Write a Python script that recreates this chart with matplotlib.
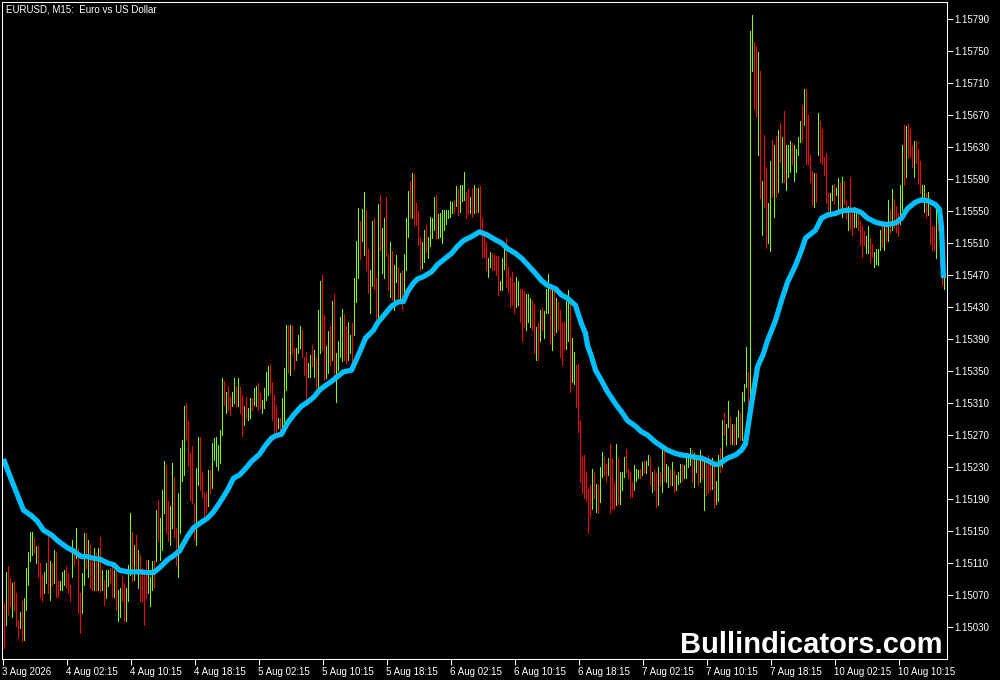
import matplotlib
matplotlib.use("Agg")
import matplotlib.pyplot as plt

plt.rcParams['font.family'] = ['Liberation Sans', 'DejaVu Sans']

# prices are stored in points above BASE (1 point = 0.00001)
BASE = 1.15000
POINT = 0.00001

HIGH = [
    60, 99, 106, 91, 85, 87, 72, 39, 49, 62,
    66, 104, 124, 149, 149, 141, 131, 131, 110, 95,
    99, 110, 145, 112, 110, 126, 124, 87, 87, 99,
    101, 106, 97, 83, 139, 129, 154, 129, 72, 97,
    147, 147, 139, 133, 118, 129, 122, 129, 143, 101,
    89, 101, 101, 104, 106, 101, 104, 76, 79, 95,
    85, 79, 108, 172, 149, 133, 145, 126, 120, 104,
    97, 114, 114, 93, 112, 112, 176, 189, 166, 201,
    237, 233, 187, 181, 235, 218, 154, 197, 254, 264,
    306, 310, 287, 247, 256, 185, 229, 268, 268, 224,
    199, 197, 226, 226, 260, 266, 268, 258, 276, 341,
    337, 324, 331, 318, 324, 341, 331, 341, 330,
    320,
    306, 318, 304, 316, 316, 329, 331, 335, 322, 314,
    329, 349, 356, 358, 336, 320, 306, 291, 291, 316,
    354, 408, 408, 408, 406, 379, 379, 395, 406, 401,
    368, 374, 360, 370, 383, 376, 366, 426, 462, 470,
    420, 381, 400, 406, 437, 446, 372, 387, 418, 428,
    421, 406, 411, 395, 410, 466, 513, 554, 538, 552,
    574, 551, 503, 476, 537, 541, 466, 559, 570, 529,
    541, 568, 496, 511, 500, 482, 495, 480, 472, 475,
    496, 541, 575, 588, 597, 596, 560, 550, 516, 511,
    526, 533, 517, 543, 541, 568, 570, 546, 548, 551,
    551, 551, 551, 562, 561, 562, 581, 577, 583, 583,
    599, 574, 577, 567, 579, 583, 579, 579, 581,
    541, 520, 511, 491, 499, 497, 495, 494, 494, 463, 491,
    507, 516, 480, 468, 474, 461, 468, 462, 453, 453,
    450, 446, 446, 441, 438, 432, 405, 411, 426, 430,
    425, 453, 471, 453, 453, 451, 441, 436, 426, 411,
    411, 438, 451, 441, 391, 374, 357, 359, 288, 243,
    245, 224, 202, 207, 228, 224, 209, 209, 230, 249,
    243, 234, 241, 259, 241, 211, 259, 241, 224, 224,
    243, 253, 228, 224, 211, 232, 228, 226, 228, 236,
    238, 238, 245, 243, 224, 226, 222, 230, 224, 253,
    251, 234, 231, 228, 236, 226, 220, 224, 234, 234,
    232, 241, 243, 254, 251, 247, 245, 243, 251, 245,
    243, 238, 245, 236, 241, 238, 213, 245, 254,
    289, 297, 284, 313, 293, 284, 284, 293, 301, 297, 324,
    334, 380, 349, 775, 795, 761, 756, 749, 725, 587,
    645, 605, 560, 612, 639, 632, 644, 651, 660, 643,
    675, 632, 632, 637, 635, 633, 628, 643, 663, 683,
    702, 702, 670, 620, 600, 597, 598, 672, 662, 653,
    618, 623, 573, 573, 582, 584, 579, 591, 585, 593,
    587, 562, 556, 593, 555, 555, 548, 546, 538, 531,
    525, 519, 531, 516, 509, 499, 503, 503, 526, 531,
    534, 538, 564, 551, 577, 565, 556, 547, 582, 632,
    657, 656, 659, 652, 632, 638, 638, 627, 613, 582,
    582, 572, 574, 555, 531, 531, 555, 549, 528, 518, 491,
]

LOW = [
    4, 33, 45, 56, 43, 51, 31, 18, 29, 12,
    14, 51, 83, 112, 120, 122, 110, 93, 68, 62,
    72, 85, 72, 64, 83, 85, 68, 68, 76, 76,
    83, 79, 72, 62, 93, 108, 116, 47, 22, 47,
    83, 104, 93, 79, 76, 76, 76, 76, 74, 76,
    58, 66, 81, 85, 68, 68, 51, 37, 43, 62,
    37, 37, 62, 95, 87, 89, 101, 79, 62, 62,
    33, 66, 72, 56, 76, 79, 112, 137, 114, 126,
    172, 147, 137, 133, 154, 143, 108, 93, 147, 212,
    220, 264, 231, 189, 185, 139, 133, 208, 201, 193,
    168, 174, 181, 197, 204, 239, 231, 226, 235, 270,
    308, 297, 301, 295, 306, 310, 306, 306, 298,
    269,
    283, 291, 289, 291, 301, 308, 306, 301, 304, 297,
    304, 314, 320, 322, 289, 272, 272, 279, 274, 281,
    279, 326, 347, 345, 372, 351, 364, 372, 379, 368,
    345, 316, 343, 343, 356, 343, 322, 326, 372, 376,
    339, 341, 347, 358, 364, 343, 311, 351, 368, 362,
    364, 360, 364, 372, 360, 395, 436, 466, 490, 512,
    495, 476, 448, 423, 456, 452, 410, 412, 501, 472,
    466, 494, 451, 443, 439, 426, 461, 437, 439, 427,
    439, 476, 517, 542, 541, 533, 533, 508, 476, 479,
    486, 499, 491, 506, 516, 526, 516, 516, 517, 510,
    526, 534, 541, 543, 547, 547, 556, 545, 549, 562,
    564, 541, 546, 547, 543, 547, 547, 549, 526,
    493, 493, 476, 468, 480, 476, 476, 470, 445, 451, 451,
    478, 455, 449, 430, 432, 422, 430, 432, 411, 388,
    405, 401, 411, 405, 401, 372, 364, 364, 388, 401,
    391, 422, 422, 384, 376, 395, 399, 403, 368, 357,
    378, 378, 388, 324, 336, 334, 305, 274, 211, 197,
    191, 188, 147, 168, 178, 191, 174, 172, 186, 218,
    220, 213, 220, 172, 178, 178, 182, 184, 184, 201,
    218, 224, 216, 193, 193, 201, 213, 216, 216, 220,
    224, 222, 232, 207, 199, 201, 180, 182, 207, 199,
    213, 211, 205, 207, 207, 199, 201, 209, 211, 213,
    216, 216, 230, 232, 211, 205, 224, 207, 211, 216,
    176, 195, 197, 201, 203, 180, 184, 188, 224,
    230, 270, 257, 280, 259, 259, 257, 259, 268, 264, 264,
    313, 330, 282, 301, 725, 678, 668, 620, 566, 520,
    555, 504, 510, 500, 568, 543, 567, 574, 611, 586,
    586, 576, 593, 599, 609, 588, 599, 620, 636, 638,
    657, 609, 609, 586, 557, 555, 561, 620, 611, 609,
    595, 560, 547, 549, 564, 559, 570, 547, 553, 543,
    559, 541, 526, 527, 520, 530, 530, 526, 507, 493,
    507, 498, 498, 486, 493, 480, 484, 482, 501, 505,
    501, 513, 513, 522, 526, 530, 524, 519, 534, 551,
    582, 593, 616, 618, 605, 593, 610, 584, 572, 561,
    549, 543, 545, 509, 501, 501, 491, 526, 480, 457, 453,
]

# g = bullish bar, r = bearish bar
DIRS = (
    "rgrrgrrrgr" "gggggrgrrr" "ggrgrgrrgg" "grrrgrgrrg" "grgrrgrgrg"
    "rggrrgrggr" "rgggrgrgrr" "rrgggrgrgg" "grrggrrggg" "grrrrrggrr"
    "rrgrgggggg" "rgrrggrgr"
    "r" "grggrggrrg" "gggrrrrgrg" "ggrgrrgggr" "rrggrgrggr" "rggrgrgggg"
    "rrggrgggrg" "grrggrrgrg" "grrgrggrgr" "gggrgrrrrg" "grggggrggg"
    "gggggrgrgg" "grrgrgrgr"
    "rrrggrrrrgg" "grrrrrggrr" "rgggrrgrgr" "gggrgrgrrr" "rggrggrrrr"
    "rrrrgrgrgg" "rrgrrrgrgg" "grrrrgggrg" "rggrgrrgrg" "rggrgrgggr"
    "ggggrggrgr" "grrrgrggr"
    "grggrgrggrg" "ggrggrrgrg" "rrggrgrgrg" "rgggrggggr" "grrrrgrgrr"
    "rrrggrggrg" "rrgrrggrrr" "rggrrggggr" "grgrgrrrgg" "rgrrrgrrrg"
    "grgrrrgrrrg"
)

# moving average line (bar index, points)
MA_IDX = [0, 3, 7, 10, 14, 17, 20, 24, 27, 32, 35, 39, 42, 45, 48, 52, 55, 58,
          62, 65, 68, 72, 75, 78, 82, 85, 88, 92, 95, 99, 102, 105, 108, 112,
          115, 118, 121, 124, 128, 131, 134, 136, 139, 142, 145, 149, 152, 155,
          158, 160, 164, 167, 170, 174, 176, 179, 181, 185, 187, 191, 194, 197,
          200, 202, 205, 207, 210, 214, 217, 220, 224, 227, 230, 234, 238, 242,
          246, 249, 252, 256, 259, 262, 266, 269, 272, 276, 279, 282, 286, 287,
          289, 291, 292, 294, 296, 299, 302, 306, 309, 312, 316, 319, 322, 326,
          329, 332, 336, 339, 342, 346, 349, 352, 356, 358, 359, 362, 366, 369,
          371, 372, 374, 376, 377, 380, 382, 386, 389, 392, 396, 399, 401, 406,
          409, 412, 416, 419, 422, 426, 429, 432, 436, 439, 442, 446, 449, 452,
          456, 459, 462, 466, 468, 469, 470]
MA_PTS = [240, 220, 195, 176, 169, 162, 151, 145, 138, 129, 125, 118, 118, 116,
          115, 110, 108, 101, 99, 99, 99, 98, 98, 104, 114, 119, 125, 143, 154,
          161, 166, 174, 185, 201, 216, 220, 228, 237, 246, 257, 266, 269, 271,
          285, 295, 306, 311, 317, 326, 330, 337, 343, 349, 351, 362, 379, 391,
          401, 410, 422, 431, 436, 437, 449, 460, 465, 468, 474, 483, 489, 497,
          506, 513, 518, 524, 520, 514, 510, 503, 497, 491, 483, 472, 463, 457,
          453, 445, 441, 432, 424, 409, 397, 382, 368, 351, 338, 324, 309, 299,
          288, 281, 274, 270, 261, 256, 251, 247, 245, 244, 242, 241, 238, 233,
          234, 236, 241, 245, 251, 259, 276, 309, 339, 355, 372, 388, 413, 438,
          461, 482, 501, 516, 526, 541, 545, 547, 550, 551, 551, 548, 541, 536,
          534, 533, 535, 541, 553, 561, 564, 563, 558, 552, 530, 466]

PRICE_TICKS = [1.15030, 1.15070, 1.15110, 1.15150, 1.15190, 1.15230, 1.15270,
               1.15310, 1.15350, 1.15390, 1.15430, 1.15470, 1.15510, 1.15550,
               1.15590, 1.15630, 1.15670, 1.15710, 1.15750, 1.15790]
TIME_LABELS = ['3 Aug 2026', '4 Aug 02:15', '4 Aug 10:15', '4 Aug 18:15',
               '5 Aug 02:15', '5 Aug 10:15', '5 Aug 18:15', '6 Aug 02:15',
               '6 Aug 10:15', '6 Aug 18:15', '7 Aug 02:15', '7 Aug 10:15',
               '7 Aug 18:15', '10 Aug 02:15', '10 Aug 10:15']
BARS_PER_LABEL = 32

UP_COLOR = '#7CFC00'
DOWN_COLOR = '#FF0000'
MA_COLOR = '#00BFFF'

n = len(HIGH)
idx = list(range(n))
highs = [BASE + h * POINT for h in HIGH]
lows = [BASE + l * POINT for l in LOW]
colors = [UP_COLOR if d == 'g' else DOWN_COLOR for d in DIRS]

fig = plt.figure(figsize=(10, 6.8), dpi=100)
fig.patch.set_facecolor('black')
ax = fig.add_axes([2 / 1000, 21 / 680, 945 / 1000, 657 / 680])
ax.set_facecolor('black')

# price bars, one pixel wide
ax.vlines(idx, lows, highs, colors=colors, linewidth=0.55, antialiased=False)

# moving average
ma = [BASE + p * POINT for p in MA_PTS]
ax.plot(MA_IDX, ma, color=MA_COLOR, linewidth=3.8, solid_joinstyle='round',
        solid_capstyle='butt')

ax.set_xlim(-0.75, 471.75)
ax.set_ylim(BASE - 10 * POINT, BASE + 811.25 * POINT)

for s in ax.spines.values():
    s.set_color('white')
    s.set_linewidth(0.75)

ax.yaxis.tick_right()
ax.set_yticks(PRICE_TICKS)
ax.set_yticklabels([f'{v:.5f}' for v in PRICE_TICKS])
ax.tick_params(axis='y', colors='white', length=4, width=0.75,
               direction='out', labelsize=7, pad=1.5)

xt = [k * BARS_PER_LABEL - 0.5 for k in range(len(TIME_LABELS))]
ax.set_xticks(xt)
ax.set_xticklabels(TIME_LABELS)
ax.tick_params(axis='x', colors='white', length=4, width=0.75,
               direction='out', labelsize=7, pad=1.5)
for lab in ax.get_xticklabels():
    lab.set_ha('left')

fig.text(6 / 1000, 1 - 4 / 680, 'EURUSD, M15:  Euro vs US Dollar',
         color='white', fontsize=7, ha='left', va='top')

fig.text(943 / 1000, 1 - 653 / 680, 'Bullindicators.com', color='white',
         fontsize=21, fontweight='bold', ha='right', va='baseline')

fig.savefig('out.png', dpi=100, facecolor='black')
